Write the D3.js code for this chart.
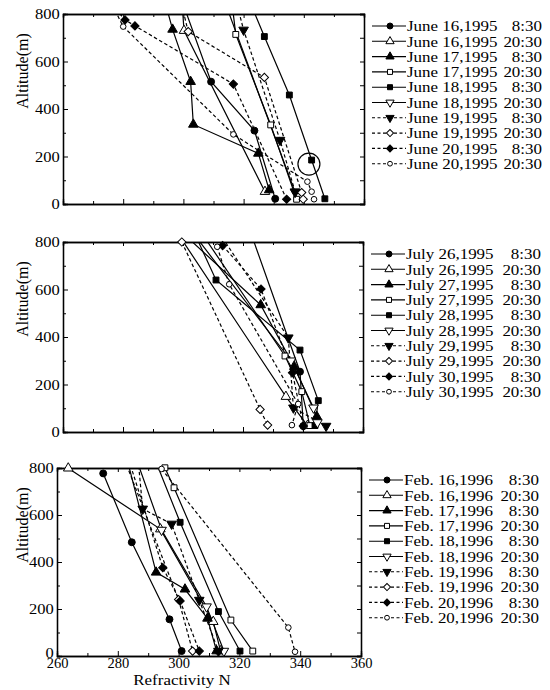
<!DOCTYPE html>
<html><head><meta charset="utf-8">
<script src="https://cdn.jsdelivr.net/npm/d3@7"></script>
<style>
body{margin:0;background:#fff}
svg text{font-family:"Liberation Serif","Times New Roman",Times,serif !important;}
</style></head>
<body><svg id="c" width="550" height="690"></svg>
<script>
// ---------- data (Refractivity N, Altitude m); points above 800 are where a line leaves the frame ----------
const xTicks = [260, 280, 300, 320, 340, 360];
const yTicks = [0, 200, 400, 600, 800];
const timeLabels = ["8:30","20:30","8:30","20:30","8:30","20:30","8:30","20:30","8:30","20:30"];

const juneDates = ["June 16,1995","June 16,1995","June 17,1995","June 17,1995","June 18,1995",
                   "June 18,1995","June 19,1995","June 19,1995","June 20,1995","June 20,1995"];
const june16am = [[299.4,860],[309.2,515],[323.6,309],[330.5,22]];
const june16pm = [[299.5,860],[300.2,730],[327.1,52]];
const june17am = [[293.7,860],[296.4,735],[302.4,515],[303.3,335],[324.9,213],[328.5,59]];
const june17pm = [[316.0,860],[317.4,714],[329.0,333],[337.6,20]];
const june18am = [[321.8,860],[326.9,705],[335.2,459],[342.6,185],[347.0,22]];
const june18pm = [[313.5,860],[337.1,50]];
const june19am = [[317.4,860],[320.0,733],[332.1,269],[337.1,52]];
const june19pm = [[299.0,860],[301.6,726],[326.9,533],[339.3,48],[339.8,20]];
const june20am = [[275.0,860],[280.6,775],[283.9,750],[316.6,505],[334.3,20]];
const june20pm = [[275.5,860],[280.0,747],[316.6,293],[341.2,94],[342.6,52],[343.4,20]];
const juneNote = [[341.7,168]]; // circled spot

const julyDates = ["July 26,1995","July 26,1995","July 27,1995","July 27,1995","July 28,1995",
                   "July 28,1995","July 29,1995","July 29,1995","July 30,1995","July 30,1995"];
const july26am = [[322.0,860],[339.0,254],[340.1,25]];
const july26pm = [[297.0,860],[334.3,149],[341.5,27]];
const july27am = [[298.0,860],[325.9,535],[337.1,275],[344.6,65]];
const july27pm = [[305.0,860],[334.0,320],[339.6,170],[342.3,27]];
const july28am = [[303.0,860],[311.0,640],[339.0,345],[345.1,132],[344.0,27]];
const july28pm = [[302.0,860],[336.0,300],[343.5,102],[344.8,40]];
const july29am = [[311.0,860],[335.1,397],[336.8,102],[347.7,25]];
const july29pm = [[299.6,800],[325.7,95],[328.2,29]];
const july30am = [[313.2,785],[326.0,602],[336.5,250],[340.1,25]];
const july30pm = [[311.4,780],[315.4,622],[338.4,118],[336.3,29]];

const febDates = ["Feb. 16,1996","Feb. 16,1996","Feb. 17,1996","Feb. 17,1996","Feb. 18,1996",
                  "Feb. 18,1996","Feb. 19,1996","Feb. 19,1996","Feb. 20,1996","Feb. 20,1996"];
const feb16am = [[275.2,777],[284.6,484],[297.0,156],[301.0,21]];
const feb16pm = [[263.7,799],[294.0,540],[311.4,146],[313.8,21]];
const feb17am = [[282.6,860],[292.6,356],[302.1,284],[309.5,160],[312.5,21]];
const feb17pm = [[295.5,801],[298.5,716],[317.2,153],[324.4,21]];
const feb18am = [[291.5,860],[300.5,569],[313.1,189],[320.2,21]];
const feb18pm = [[285.5,860],[294.4,536],[309.2,210],[314.9,21]];
const feb19am = [[286.5,860],[288.2,626],[297.7,562],[306.8,238],[313.1,21]];
const feb19pm = [[281.5,860],[300.0,240],[304.6,21]];
const feb20am = [[283.0,860],[294.8,376],[300.5,234],[306.8,21]];
const feb20pm = [[294.4,796],[336.1,121],[338.3,18]];

// ---------- styles ----------
const STRETCH = "scale(1.13,1)";
const markerKinds = ["circleF","triUpO","triUpF","squareO","squareF","triDnO","triDnF","diamO","diamF","circleO"];
const dashedSeries = [false,false,false,false,false,false,true,true,true,true];

const panels = [
  {box:[63,364,14,204], dates: juneDates,
   series:[june16am,june16pm,june17am,june17pm,june18am,june18pm,june19am,june19pm,june20am,june20pm],
   note: juneNote, xlabels:false},
  {box:[63,363,242,432], dates: julyDates,
   series:[july26am,july26pm,july27am,july27pm,july28am,july28pm,july29am,july29pm,july30am,july30pm],
   note: [], xlabels:false},
  {box:[57,361,468,656], dates: febDates,
   series:[feb16am,feb16pm,feb17am,feb17pm,feb18am,feb18pm,feb19am,feb19pm,feb20am,feb20pm],
   note: [], xlabels:true}
];

const svg = d3.select("#c");
svg.append("rect").attr("width",550).attr("height",690).attr("fill","#fff");

function symPath(kind, s) {
  const k = kind.slice(0, -1);
  let type = d3.symbolCircle, size = s;
  if (k === "triUp" || k === "triDn") { type = d3.symbolTriangle; size = s*1.05; }
  if (k === "square") { type = d3.symbolSquare; size = s*0.9; }
  if (k === "diam") { type = d3.symbolSquare; size = s*0.9; }
  if (kind === "circleO") size = s*0.65;
  return d3.symbol(type, size)();
}
function symRot(kind) {
  if (kind.startsWith("triDn")) return 180;
  if (kind.startsWith("diam")) return 45;
  return 0;
}
function drawMarker(g, kind, px, py, s) {
  const filled = kind.endsWith("F");
  g.append("path")
    .attr("d", symPath(kind, s))
    .attr("transform", `translate(${px},${py}) rotate(${symRot(kind)})`)
    .attr("fill", filled ? "#000" : "#fff")
    .attr("stroke", "#000").attr("stroke-width", 1);
}

panels.forEach((p, pi) => {
  const [x0, x1, yt, yb] = p.box;
  const x = d3.scaleLinear().domain([260, 360]).range([x0, x1]);
  const y = d3.scaleLinear().domain([0, 800]).range([yb, yt]);
  const g = svg.append("g");
  const clipId = "clip" + pi;
  svg.append("clipPath").attr("id", clipId).append("rect")
    .attr("x", x0).attr("y", yt).attr("width", x1 - x0).attr("height", yb - yt);

  // axes with inward ticks
  const ax = (axis, tr, vals, size, fmt) => {
    const a = g.append("g").attr("transform", tr)
      .call(axis.tickValues(vals).tickSize(size).tickPadding(3).tickFormat(fmt || ""));
    a.attr("font-family", null);
    a.selectAll("path.domain").attr("stroke", "#000").attr("stroke-width", 1.3);
    a.selectAll("line").attr("stroke", "#000").attr("stroke-width", 1);
    a.selectAll("text").attr("fill", "#000");
    return a;
  };
  const yMinor = [100, 300, 500, 700];
  const xMajor = xTicks, xMinor = [270, 290, 310, 330, 350];
  const la = ax(d3.axisLeft(y), `translate(${x0},0)`, yTicks, -5, d3.format("d"));
  la.selectAll("text").attr("font-size", 15).attr("transform", "scale(1.1,1)")
    .attr("dy", d => (p.xlabels && d === 0) ? "0.1em" : "0.3em");
  ax(d3.axisLeft(y), `translate(${x0},0)`, yMinor, -3);
  ax(d3.axisRight(y), `translate(${x1},0)`, yTicks, -4);
  ax(d3.axisRight(y), `translate(${x1},0)`, yMinor, -4);
  ax(d3.axisTop(x), `translate(0,${yt})`, xMajor, -4);
  ax(d3.axisTop(x), `translate(0,${yt})`, xMinor, -3);
  const ba = ax(d3.axisBottom(x), `translate(0,${yb})`, xMajor, -5, p.xlabels ? d3.format("d") : null);
  ba.selectAll("text").attr("font-size", 14.5).attr("y", 2).attr("dy", "0.72em");
  ax(d3.axisBottom(x), `translate(0,${yb})`, xMinor, -3);

  g.append("text").attr("transform", `translate(22,${yt + 57}) rotate(-90)`)
    .attr("text-anchor", "middle").attr("dy", "0.35em")
    .attr("font-size", 16).text("Altitude(m)");
  if (p.xlabels) {
    g.append("text").attr("transform", `translate(${(x0 + x1) / 2 - 27},${yb + 29}) ${STRETCH}`)
      .attr("text-anchor", "middle").attr("font-size", 15)
      .text("Refractivity N");
  }

  // series
  const line = d3.line().x(d => x(d[0])).y(d => y(d[1]));
  p.series.forEach((s, i) => {
    g.append("path").attr("d", line(s)).attr("clip-path", `url(#${clipId})`)
      .attr("fill", "none").attr("stroke", "#000").attr("stroke-width", 1.2)
      .attr("stroke-dasharray", dashedSeries[i] ? "3.5,2.5" : null);
  });
  p.series.forEach((s, i) => {
    s.filter(d => d[1] <= 805).forEach(d => drawMarker(g, markerKinds[i], x(d[0]), y(d[1]), 38));
  });
  p.note.forEach(d => {
    g.append("circle").attr("cx", x(d[0])).attr("cy", y(d[1])).attr("r", 11)
      .attr("fill", "none").attr("stroke", "#000").attr("stroke-width", 1.2);
  });

  // legend
  const lx = x1 + 8, ly = yt + 12, step = 15.3;
  p.dates.forEach((dt, i) => {
    const ry = ly + i * step;
    const lg = g.append("g");
    lg.append("line").attr("x1", lx).attr("x2", lx + 34).attr("y1", ry).attr("y2", ry)
      .attr("stroke", "#000").attr("stroke-width", 1.1)
      .attr("stroke-dasharray", dashedSeries[i] ? "3,2.5" : null);
    drawMarker(lg, markerKinds[i], lx + 18, ry, 28);
    lg.append("text").attr("transform", `translate(${lx + 35},${ry}) ${STRETCH}`)
      .attr("dy", "0.35em").attr("font-size", 15).text(dt);
    lg.append("text").attr("transform", `translate(${lx + 170},${ry}) ${STRETCH}`)
      .attr("dy", "0.35em").attr("text-anchor", "end")
      .attr("font-size", 15).text(timeLabels[i]);
  });
});
</script></body></html>
